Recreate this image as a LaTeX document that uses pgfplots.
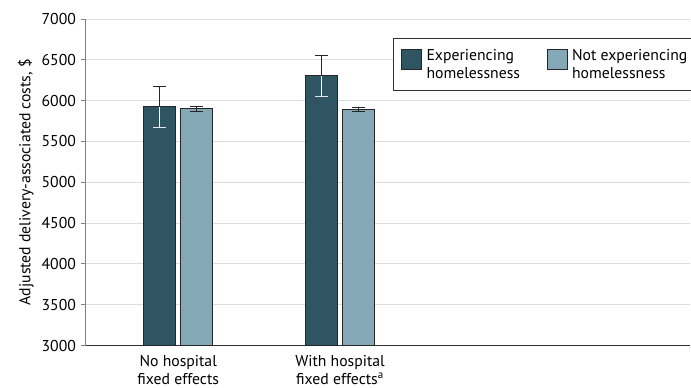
\documentclass[border=0pt]{standalone}
\usepackage{pgfplots}
\pgfplotsset{compat=1.18}
\usepackage{fontspec}
\setmainfont{PT Sans}
\definecolor{darkbar}{HTML}{2F5562}
\definecolor{lightbar}{HTML}{85A8B6}
\definecolor{gridgray}{HTML}{DCDCDC}
\begin{document}
\begin{tikzpicture}
\begin{axis}[
  name=ax,
  scale only axis,
  width=453pt, height=245pt,
  xmin=-0.57, xmax=3.16,
  ymin=3000, ymax=7000,
  ytick={3000,3500,...,7000},
  xtick={0,1},
  xticklabels={{No hospital\\fixed effects},{With hospital\\fixed effects\textsuperscript{a}}},
  xticklabel style={align=center, font=\fontsize{11.8}{13.5}\selectfont},
  yticklabel style={font=\fontsize{11.8}{13}\selectfont},
  /pgf/number format/assume math mode=true,
  /pgf/number format/1000 sep={},
  xtick style={draw=none},
  ytick style={draw=gray, line width=0.6pt},
  major tick length=4pt,
  tick align=outside,
  axis x line*=bottom,
  axis y line*=left,
  x axis line style={draw=black!80, line width=0.7pt, -},
  y axis line style={draw=gray, line width=0.8pt, -},
  ymajorgrids,
  grid style={gridgray, line width=0.7pt},
  ylabel={Adjusted delivery-associated costs, \$},
  ylabel style={font=\fontsize{11.8}{13}\selectfont},
  ylabel shift=-1pt,
  ybar,
  bar width=24pt,
  legend columns=2,
  legend style={at={(0.508,0.942)}, anchor=north west, draw=black!80, line width=0.7pt,
    font=\fontsize{11.8}{13.5}\selectfont, cells={align=left, anchor=west},
    inner xsep=6pt, inner ysep=6pt,
    /tikz/every odd column/.append style={column sep=1.5pt},
    /tikz/every even column/.append style={column sep=18pt}},
  legend image code/.code={\draw[#1, line width=0.6pt] (0pt,-3.5pt) rectangle (15pt,11.5pt);},
]
\addplot[bar shift=-13.875pt, fill=darkbar, draw=black!85, line width=0.7pt,
  error bars/.cd, y dir=plus, y explicit, error bar style={black!85, line width=0.8pt},
  error mark options={black!85, rotate=90, mark size=4.7pt, line width=0.8pt}]
  coordinates {(0,5925) +- (0,253) (1,6303) +- (0,253)};
\addlegendentry{Experiencing\\homelessness}
\addplot[bar shift=13.875pt, fill=lightbar, draw=black!85, line width=0.7pt,
  error bars/.cd, y dir=both, y explicit, error bar style={black!85, line width=0.8pt},
  error mark options={black!85, rotate=90, mark size=4.7pt, line width=0.8pt}]
  coordinates {(0,5900) +- (0,28) (1,5888) +- (0,24)};
\addlegendentry{Not experiencing\\homelessness}
\addplot[forget plot, bar shift=-13.875pt, draw=none, fill=none,
  error bars/.cd, y dir=minus, y explicit, error bar style={white, line width=0.8pt},
  error mark options={white!80!gray, rotate=90, mark size=4.7pt, line width=0.8pt}]
  coordinates {(0,5925) +- (0,253) (1,6303) +- (0,253)};
\end{axis}
\pgfresetboundingbox
\path (ax.south west) ++(-64.5pt,-31.5pt) coordinate (bl);
\path (ax.north east) ++(1pt,14.25pt) coordinate (tr);
\path[use as bounding box] (bl) rectangle (tr);
\end{tikzpicture}
\end{document}
